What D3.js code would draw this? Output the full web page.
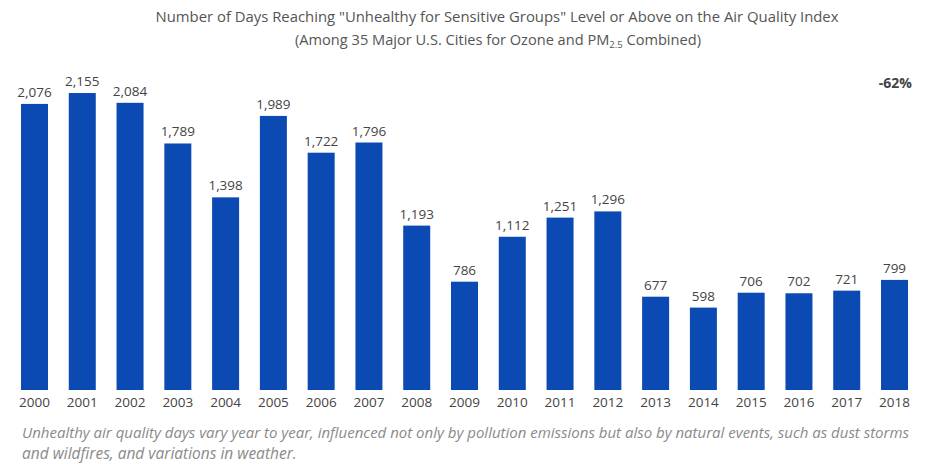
<!DOCTYPE html>
<html><head><meta charset="utf-8">
<script src="https://cdn.jsdelivr.net/npm/d3@7"></script>
<style>body{margin:0;background:#fff}svg{display:block}text{font-family:"Open Sans",sans-serif}</style>
</head><body><svg id="c" width="934" height="464"></svg>
<script>
const years = ["2000","2001","2002","2003","2004","2005","2006","2007","2008","2009","2010","2011","2012","2013","2014","2015","2016","2017","2018"];
const days = [2076,2155,2084,1789,1398,1989,1722,1796,1193,786,1112,1251,1296,677,598,706,702,721,799];
const titleLines = ['Number of Days Reaching "Unhealthy for Sensitive Groups" Level or Above on the Air Quality Index'];
const subtitleParts = ["(Among 35 Major U.S. Cities for Ozone and PM", "2.5", " Combined)"];
const changeLabel = "-62%";
const footnote = ["Unhealthy air quality days vary year to year, influenced not only by pollution emissions but also by natural events, such as dust storms", "and wildfires, and variations in weather."];

const svg = d3.select("#c");
const x = d3.scaleBand().domain(years).range([10.6, 918.4]).paddingInner(0.435).paddingOuter(0.2175);
const y = d3.scaleLinear().domain([0, 2500]).range([390, 45.5]);

svg.selectAll("rect.bar").data(days).join("rect")
  .attr("x", (d,i)=>x(years[i])).attr("width", x.bandwidth())
  .attr("y", d=>y(d)).attr("height", d=>y(0)-y(d)).attr("fill", "#0a4ab2");

svg.selectAll("text.val").data(days).join("text")
  .attr("x", (d,i)=>x(years[i])+x.bandwidth()/2).attr("y", d=>y(d)-7)
  .attr("text-anchor","middle").attr("font-size",13.5).attr("fill","#444")
  .text(d=>d3.format(",")(d));

const xAxis = svg.append("g").attr("transform",`translate(0,${y(0)})`)
  .call(d3.axisBottom(x).tickSize(0).tickPadding(7));
xAxis.select(".domain").remove();
xAxis.selectAll("text").attr("font-size",13.5).attr("fill","#444").attr("font-family",'"Open Sans",sans-serif');

svg.append("text").attr("x",497).attr("y",22).attr("text-anchor","middle")
  .attr("font-size",15).attr("fill","#555").text(titleLines[0]).attr("textLength",683).attr("lengthAdjust","spacingAndGlyphs");

// subtitle built from three pieces laid side by side
const sizes = [14.6, 9.5, 14.6];
const dys = [0, 3, 0];
const pieces = subtitleParts.map((s,i)=>svg.append("text").attr("y",45+dys[i]).attr("font-size",sizes[i])
  .attr("fill","#555").style("white-space","pre").attr("xml:space","preserve").text(s));
const widths = pieces.map(p=>p.node().getComputedTextLength());
const total = d3.sum(widths);
let cx = 498 - total/2;
pieces.forEach((p,i)=>{ p.attr("x", cx); cx += widths[i]; });

svg.append("text").attr("x",912).attr("y",88).attr("text-anchor","end")
  .attr("font-size",14).attr("font-weight","bold").attr("fill","#444").text(changeLabel);

svg.selectAll("text.fn").data(footnote).join("text")
  .attr("x",22).attr("y",(d,i)=>438+i*21).attr("font-size",(d,i)=>i===0?15:15.5).attr("font-style","italic")
  .attr("fill","#8a8a8a").text(d=>d);
</script></body></html>
